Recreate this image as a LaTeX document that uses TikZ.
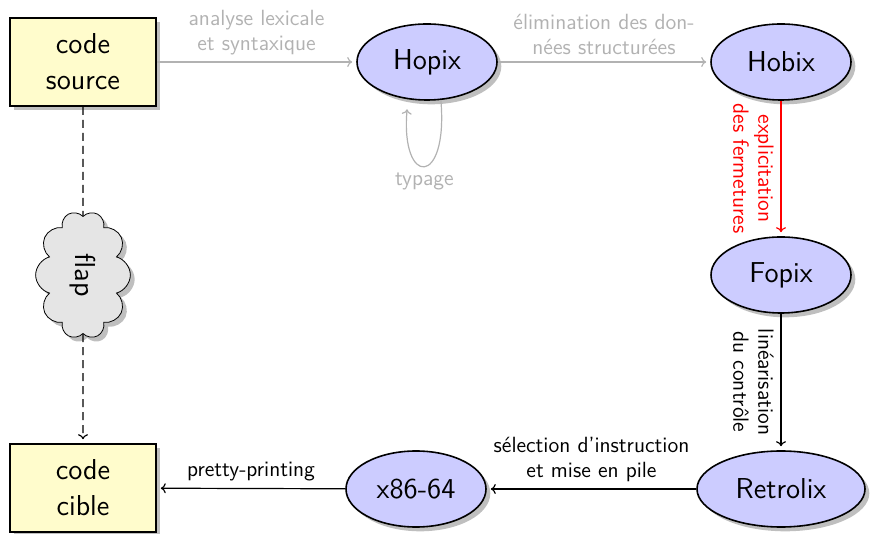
\documentclass[tikz,border=0pt]{standalone}
\usetikzlibrary{shapes.geometric,shapes.symbols,shadows,arrows.meta}

\begin{document}
\begin{tikzpicture}[x=0.5pt,y=0.5pt,>={To[length=2.5pt,width=5pt]},
  lang/.style={ellipse,draw,thick,fill=blue!20,drop shadow,minimum width=70pt,minimum height=38pt,font=\sffamily\Large},
  file/.style={rectangle,draw,thick,fill=yellow!20,drop shadow,minimum width=73pt,minimum height=44pt,align=center,font=\sffamily\Large},
  pass/.style={->,semithick,shorten >=2pt,font=\sffamily\fontsize{11}{12.5}\selectfont,align=center},
  done/.style={pass,gray!60},
  side/.style={midway,rotate=-90,anchor=north,align=center}]
\useasboundingbox (0,0) rectangle (871,534);
\node[file] (src) at (83,472) {code\\source};
\node[file] (cible) at (83,46) {code\\cible};
\node[cloud,draw,fill=gray!20,drop shadow,cloud puffs=10,minimum width=64pt,minimum height=44pt,rotate=-90,font=\sffamily\Large] (flap) at (83,259) {flap};
\node[lang] (hopix) at (427,472) {Hopix};
\node[lang] (hobix) at (781,472) {Hobix};
\node[lang] (fopix) at (781,259) {Fopix};
\node[lang,minimum width=84pt] (retrolix) at (781,45) {Retrolix};
\node[lang] (x86) at (416,45) {x86-64};
% passes
\draw[done] (src) -- node[above] {analyse lexicale\\et syntaxique} (hopix);
\draw[done] (hopix) -- node[above] {élimination des don-\\nées structurées} (hobix);
\draw[done,shorten >=5pt] (hopix.-70) to[out=-85,in=-95,distance=44pt] node[below] {typage} (hopix.-117);
\draw[pass,red] (hobix) -- node[side] {explicitation\\des fermetures} (fopix);
\draw[pass] (fopix) -- node[side] {linéarisation\\du contrôle} (retrolix);
\draw[pass] (retrolix) -- node[above] {sélection d'instruction\\et mise en pile} (x86);
\draw[pass] (x86) -- node[above] {pretty-printing} (cible);
\draw[semithick,dash pattern=on 4pt off 2.5pt] (src) -- (flap);
\draw[pass,dash pattern=on 4pt off 2.5pt] (flap) -- (cible);
\end{tikzpicture}
\end{document}
